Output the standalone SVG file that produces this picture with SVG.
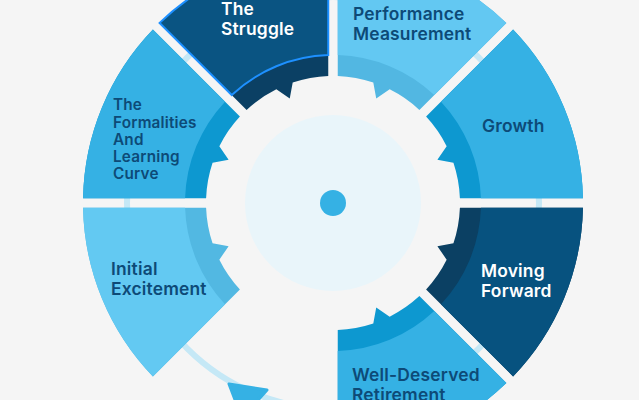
<svg xmlns="http://www.w3.org/2000/svg" width="639" height="400" viewBox="0 0 639 400">
<style>
.lbl{font-family:Inter,"Noto Sans","Liberation Sans",sans-serif;font-weight:600;font-size:17.4px;letter-spacing:0.2px}
.sm{font-size:15.3px;letter-spacing:0.2px}
.dk{fill:#0d4a77}
.wt{fill:#ffffff}
</style>
<rect width="639" height="400" fill="#f5f5f5"/>
<g id="connectors">
<circle cx="333" cy="203" r="206" fill="none" stroke="#c5e8f6" stroke-width="6"/>
<polygon points="229,384 267,390 242,418" fill="#35b1e4" stroke="#35b1e4" stroke-width="3" stroke-linejoin="round"/>
</g>
<g id="center">
<circle cx="333" cy="203" r="88" fill="#e9f5fa"/>
<circle cx="333" cy="203" r="13" fill="#35b1e4"/>
</g>
<g id="moving-forward">
<path d="M 582.96 207.75 A 250 250 0 0 1 513.10 376.39 L 426.10 289.38 A 127 127 0 0 0 446.66 259.67 L 437.40 246.24 L 453.44 243.30 A 127 127 0 0 0 459.91 207.75 Z" fill="#0b4063"/>
<path d="M 582.96 207.75 A 250 250 0 0 1 513.10 376.39 L 440.96 304.24 A 148 148 0 0 0 480.92 207.75 Z" fill="#07527f"/>
<text class="lbl wt" x="481" y="277">Moving</text>
<text class="lbl wt" x="481" y="297">Forward</text>
</g>
<g id="retirement">
<path d="M 506.39 383.10 A 250 250 0 0 1 337.75 452.96 L 337.75 329.91 A 127 127 0 0 0 373.30 323.44 L 376.24 307.40 L 389.67 316.66 A 127 127 0 0 0 419.38 296.10 Z" fill="#0d98d0"/>
<path d="M 506.39 383.10 A 250 250 0 0 1 337.75 452.96 L 337.75 350.92 A 148 148 0 0 0 434.24 310.96 Z" fill="#35b1e4"/>
<text class="lbl dk" x="352" y="381">Well-Deserved</text>
<text class="lbl dk" x="352" y="401">Retirement</text>
</g>
<g id="initial-excitement">
<path d="M 152.90 376.39 A 250 250 0 0 1 83.05 207.75 L 206.09 207.75 A 127 127 0 0 0 212.56 243.30 L 228.60 246.24 L 219.34 259.67 A 127 127 0 0 0 239.90 289.38 Z" fill="#52b8e2"/>
<path d="M 152.90 376.39 A 250 250 0 0 1 83.05 207.75 L 185.08 207.75 A 148 148 0 0 0 225.04 304.24 Z" fill="#63c9f2"/>
<text class="lbl dk" x="111" y="275">Initial</text>
<text class="lbl dk" x="111" y="295">Excitement</text>
</g>
<g id="formalities">
<path d="M 83.05 198.25 A 250 250 0 0 1 152.90 29.61 L 239.90 116.62 A 127 127 0 0 0 219.34 146.33 L 228.60 159.76 L 212.56 162.70 A 127 127 0 0 0 206.09 198.25 Z" fill="#0d98d0"/>
<path d="M 83.05 198.25 A 250 250 0 0 1 152.90 29.61 L 225.04 101.76 A 148 148 0 0 0 185.08 198.25 Z" fill="#35b1e4"/>
<text class="lbl sm dk" x="113" y="110">The</text>
<text class="lbl sm dk" x="113" y="127.5">Formalities</text>
<text class="lbl sm dk" x="113" y="144.8">And</text>
<text class="lbl sm dk" x="113" y="162">Learning</text>
<text class="lbl sm dk" x="113" y="179.3">Curve</text>
</g>
<g id="struggle">
<path d="M 159.61 22.90 A 250 250 0 0 1 328.25 -46.96 L 328.25 76.09 A 127 127 0 0 0 292.70 82.56 L 289.76 98.60 L 276.33 89.34 A 127 127 0 0 0 246.62 109.90 Z" fill="#0b4064"/>
<path d="M 159.61 22.90 A 250 250 0 0 1 328.25 -46.96 L 328.25 55.08 A 148 148 0 0 0 231.76 95.04 Z" fill="#0a5482" stroke="#1e90ff" stroke-width="2"/>
<text class="lbl wt" x="221" y="15">The</text>
<text class="lbl wt" x="221" y="35">Struggle</text>
</g>
<g id="performance">
<path d="M 337.75 -46.96 A 250 250 0 0 1 506.39 22.90 L 419.38 109.90 A 127 127 0 0 0 389.67 89.34 L 376.24 98.60 L 373.30 82.56 A 127 127 0 0 0 337.75 76.09 Z" fill="#52b7e2"/>
<path d="M 337.75 -46.96 A 250 250 0 0 1 506.39 22.90 L 434.24 95.04 A 148 148 0 0 0 337.75 55.08 Z" fill="#63c8f2"/>
<text class="lbl dk" x="353" y="20">Performance</text>
<text class="lbl dk" x="353" y="40">Measurement</text>
</g>
<g id="growth">
<path d="M 513.10 29.61 A 250 250 0 0 1 582.96 198.25 L 459.91 198.25 A 127 127 0 0 0 453.44 162.70 L 437.40 159.76 L 446.66 146.33 A 127 127 0 0 0 426.10 116.62 Z" fill="#0d98d0"/>
<path d="M 513.10 29.61 A 250 250 0 0 1 582.96 198.25 L 480.92 198.25 A 148 148 0 0 0 440.96 101.76 Z" fill="#35b1e4"/>
<text class="lbl dk" x="482" y="132">Growth</text>
</g>
</svg>
